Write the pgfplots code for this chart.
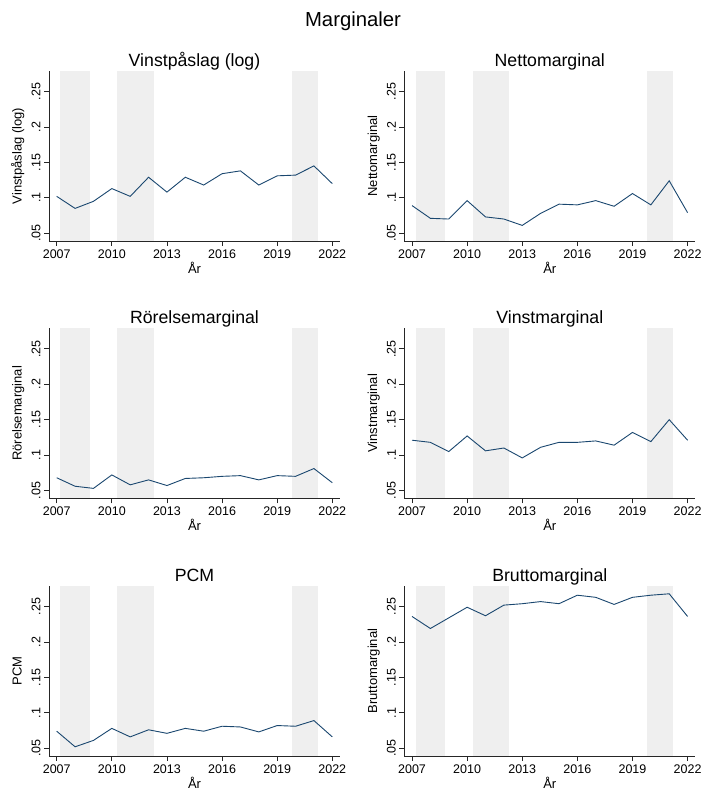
\documentclass[border=0pt]{standalone}
\usepackage{fontspec}
\setmainfont{Liberation Sans}
\usepackage{pgfplots}
\usepackage{pgfplotstable}
\pgfplotsset{compat=1.18}

\definecolor{stnavy}{RGB}{26,71,111}
\definecolor{recess}{RGB}{239,239,239}

% Margins by year: markup (log), net, operating, profit, PCM, gross
\pgfplotstableread{
year vp    nm    rm    vm    pcm   bm
2007 0.102 0.089 0.068 0.121 0.074 0.236
2008 0.085 0.071 0.056 0.118 0.052 0.219
2009 0.095 0.070 0.053 0.105 0.061 0.234
2010 0.113 0.096 0.072 0.127 0.078 0.249
2011 0.102 0.073 0.058 0.106 0.066 0.237
2012 0.129 0.070 0.065 0.110 0.076 0.252
2013 0.108 0.061 0.057 0.096 0.071 0.254
2014 0.129 0.078 0.067 0.111 0.078 0.257
2015 0.118 0.091 0.068 0.118 0.074 0.254
2016 0.134 0.090 0.070 0.118 0.081 0.266
2017 0.138 0.096 0.071 0.120 0.080 0.263
2018 0.118 0.088 0.065 0.114 0.073 0.253
2019 0.131 0.106 0.071 0.132 0.082 0.263
2020 0.132 0.090 0.070 0.119 0.081 0.266
2021 0.145 0.124 0.081 0.150 0.089 0.268
2022 0.120 0.079 0.061 0.121 0.066 0.236
}\margtab

% Recession periods (start, end)
\pgfplotstableread{
x0     x1
2007.2 2008.8
2010.3 2012.3
2019.8 2021.2
}\recesstab

\newcommand{\recessions}{%
  \addplot[fill=recess, draw=none] coordinates {(2007.2,0.039) (2008.8,0.039) (2008.8,0.279) (2007.2,0.279)} -- cycle;
  \addplot[fill=recess, draw=none] coordinates {(2010.3,0.039) (2012.3,0.039) (2012.3,0.279) (2010.3,0.279)} -- cycle;
  \addplot[fill=recess, draw=none] coordinates {(2019.8,0.039) (2021.2,0.039) (2021.2,0.279) (2019.8,0.279)} -- cycle;
}

\pgfplotsset{
  margpanel/.style={
    scale only axis, width=291pt, height=170pt,
    anchor=south west,
    xmin=2006.58, xmax=2022.42, ymin=0.039, ymax=0.279,
    axis x line*=bottom, axis y line*=left,
    axis line style={-, line width=0.8pt, black!85},
    axis on top,
    tick align=outside, major tick length=5pt,
    tick style={line width=0.8pt, black!85},
    xtick={2007,2010,...,2022},
    ytick={0.05,0.1,0.15,0.2,0.25},
    yticklabels={.05,.1,.15,.2,.25},
    minor tick num=0,
    x tick label style={/pgf/number format/1000 sep={}, /pgf/number format/assume math mode=true,
      font=\fontsize{12.5}{14}\selectfont},
    y tick label style={rotate=90, anchor=south, font=\fontsize{12.5}{14}\selectfont},
    xlabel={År},
    every axis x label/.style={at={(axis description cs:0.5,0)}, anchor=base, yshift=-32.3pt,
      font=\fontsize{13}{15}\selectfont},
    every axis y label/.style={at={(axis description cs:0,0.5)}, xshift=-27.3pt, rotate=90, anchor=base,
      font=\fontsize{13}{15}\selectfont},
    every axis title/.style={at={(axis description cs:0.5,1)}, anchor=base, yshift=4.7pt,
      font=\fontsize{17.7}{20}\selectfont},
  },
  margline/.style={stnavy, line width=0.9pt, no marks},
}

\begin{document}
\begin{tikzpicture}
\useasboundingbox (0pt,0pt) rectangle (702pt,789pt);
\node[anchor=base, font=\fontsize{20.3}{24}\selectfont] at (353pt,762.3pt) {Marginaler};

\begin{axis}[margpanel, at={(49pt,548pt)}, title={Vinstpåslag (log)}, ylabel={Vinstpåslag (log)}]
\recessions
\addplot[margline] table[x=year, y=vp] {\margtab};
\end{axis}

\begin{axis}[margpanel, at={(404.3pt,548pt)}, title={Nettomarginal}, ylabel={Nettomarginal}]
\recessions
\addplot[margline] table[x=year, y=nm] {\margtab};
\end{axis}

\begin{axis}[margpanel, at={(49pt,290.7pt)}, title={Rörelsemarginal}, ylabel={Rörelsemarginal}]
\recessions
\addplot[margline] table[x=year, y=rm] {\margtab};
\end{axis}

\begin{axis}[margpanel, at={(404.3pt,290.7pt)}, title={Vinstmarginal}, ylabel={Vinstmarginal}]
\recessions
\addplot[margline] table[x=year, y=vm] {\margtab};
\end{axis}

\begin{axis}[margpanel, at={(49pt,33pt)}, title={PCM}, ylabel={PCM}]
\recessions
\addplot[margline] table[x=year, y=pcm] {\margtab};
\end{axis}

\begin{axis}[margpanel, at={(404.3pt,33pt)}, title={Bruttomarginal}, ylabel={Bruttomarginal}]
\recessions
\addplot[margline] table[x=year, y=bm] {\margtab};
\end{axis}
\end{tikzpicture}
\end{document}
